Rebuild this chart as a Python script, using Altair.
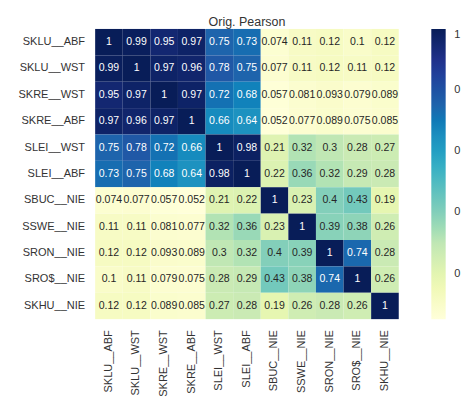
import altair as alt
import pandas as pd

labels = ["SKLU__ABF", "SKLU__WST", "SKRE__WST", "SKRE__ABF", "SLEI__WST", "SLEI__ABF",
          "SBUC__NIE", "SSWE__NIE", "SRON__NIE", "SRO$__NIE", "SKHU__NIE"]

row_sklu_abf = [1, 0.99, 0.95, 0.97, 0.75, 0.73, 0.074, 0.11, 0.12, 0.1, 0.12]
row_sklu_wst = [0.99, 1, 0.97, 0.96, 0.78, 0.75, 0.077, 0.11, 0.12, 0.11, 0.12]
row_skre_wst = [0.95, 0.97, 1, 0.97, 0.72, 0.68, 0.057, 0.081, 0.093, 0.079, 0.089]
row_skre_abf = [0.97, 0.96, 0.97, 1, 0.66, 0.64, 0.052, 0.077, 0.089, 0.075, 0.085]
row_slei_wst = [0.75, 0.78, 0.72, 0.66, 1, 0.98, 0.21, 0.32, 0.3, 0.28, 0.27]
row_slei_abf = [0.73, 0.75, 0.68, 0.64, 0.98, 1, 0.22, 0.36, 0.32, 0.29, 0.28]
row_sbuc_nie = [0.074, 0.077, 0.057, 0.052, 0.21, 0.22, 1, 0.23, 0.4, 0.43, 0.19]
row_sswe_nie = [0.11, 0.11, 0.081, 0.077, 0.32, 0.36, 0.23, 1, 0.39, 0.38, 0.26]
row_sron_nie = [0.12, 0.12, 0.093, 0.089, 0.3, 0.32, 0.4, 0.39, 1, 0.74, 0.28]
row_sros_nie = [0.1, 0.11, 0.079, 0.075, 0.28, 0.29, 0.43, 0.38, 0.74, 1, 0.26]
row_skhu_nie = [0.12, 0.12, 0.089, 0.085, 0.27, 0.28, 0.19, 0.26, 0.28, 0.26, 1]

rows = [row_sklu_abf, row_sklu_wst, row_skre_wst, row_skre_abf, row_slei_wst, row_slei_abf,
        row_sbuc_nie, row_sswe_nie, row_sron_nie, row_sros_nie, row_skhu_nie]

colorbar_ticks = [0.2, 0.4, 0.6, 0.8, 1]
ylgnbu = ["#ffffd9", "#edf8b1", "#c7e9b4", "#7fcdbb", "#41b6c4",
          "#1d91c0", "#225ea8", "#253494", "#081d58"]
vmin, vmax = 0.052, 1.0
stops = [vmin + (vmax - vmin) * k / (len(ylgnbu) - 1) for k in range(len(ylgnbu))]

records = []
for i, r in enumerate(rows):
    for j, v in enumerate(r):
        records.append({"row": labels[i], "col": labels[j], "value": v,
                        "txt": f"{v:.2g}"})
df = pd.DataFrame(records)

FONT = "Liberation Sans"
W, H = 317, 303

xenc = alt.X("col:N", sort=labels, title=None,
             axis=alt.Axis(labelAngle=-90, ticks=False, domain=False, labelPadding=11,
                           labelFontSize=11.5, labelColor="#333333", labelFont=FONT))
yenc = alt.Y("row:N", sort=labels, title=None,
             axis=alt.Axis(ticks=False, domain=False, labelPadding=11,
                           minExtent=86, maxExtent=86,
                           labelFontSize=11.5, labelColor="#333333", labelFont=FONT))

rects = alt.Chart(df).mark_rect().encode(
    x=xenc, y=yenc,
    color=alt.Color("value:Q",
                    scale=alt.Scale(domain=stops, range=ylgnbu),
                    legend=alt.Legend(orient="right", offset=34,
                                      gradientLength=H, gradientThickness=15,
                                      title=None, labelOffset=9, values=colorbar_ticks,
                                      labelExpr="datum.value == 1 ? '1' : '0'",
                                      labelFontSize=11.5, labelColor="#333333", labelFont=FONT))
)

texts = alt.Chart(df).mark_text(fontSize=11, font=FONT).encode(
    x=alt.X("col:N", sort=labels),
    y=alt.Y("row:N", sort=labels),
    text=alt.Text("txt:N"),
    color=alt.condition(alt.datum.value > 0.5, alt.value("white"), alt.value("#262626")),
)

chart = alt.layer(rects, texts).properties(
    width=W, height=H,
    title=alt.TitleParams("Orig. Pearson", fontSize=13, font=FONT, color="#333333",
                          fontWeight="normal", offset=0),
    padding={"left": 5, "top": 0, "right": 0, "bottom": 5},
).configure_view(stroke=None)

chart.save("out.html", embed_options={"renderer": "svg", "actions": False})
